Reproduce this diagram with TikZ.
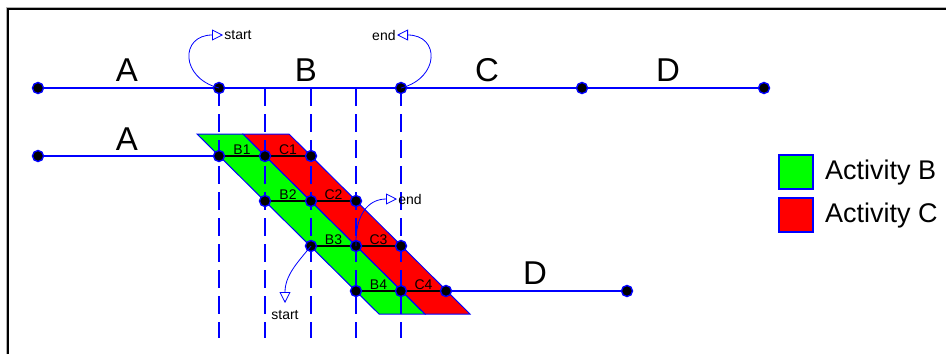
\documentclass[tikz,border=0pt]{standalone}
\usepackage{fontspec}
\setmainfont{Liberation Sans}
\usetikzlibrary{arrows.meta}
\begin{document}
\begin{tikzpicture}[x=1pt,y=-1pt,
  wire/.style={draw=blue, line width=1.6pt},
  guide/.style={draw=blue, line width=1.6pt, dash pattern=on 18pt off 8pt},
  dot/.style={circle, fill=black, draw=blue, line width=1.4pt, minimum size=11pt, inner sep=0pt},
  link/.style={draw=black, line width=1.2pt},
  band/.style={draw=blue, line width=1pt},
  loop/.style={draw=blue, line width=0.8pt, -{Triangle[open, length=11pt, width=11pt, line width=0.8pt]}},
  big/.style={font=\fontsize{33}{34}\selectfont},
  small/.style={font=\fontsize{14}{15}\selectfont, inner sep=1.2pt},
  legend/.style={font=\fontsize{27}{28}\selectfont, anchor=west, inner sep=0pt},
  swatch/.style={draw=blue, line width=1.2pt, minimum size=34pt, inner sep=0pt}]

\useasboundingbox (0,0) rectangle (946,354);
\fill[white] (0,0) rectangle (946,354);

% frame
\draw[gray!60, line width=1pt] (6,354) -- (6,7) -- (946,7);
\draw[black, line width=1.5pt] (8,354) -- (8,9) -- (946,9);

% sequential schedule
\coordinate (t1) at (38,88);
\coordinate (t2) at (219,88);
\coordinate (t3) at (401,88);
\coordinate (t4) at (582,88);
\coordinate (t5) at (764,88);

% time guides
\foreach \i/\x in {1/219,2/265,3/311,4/356,5/401}{
  \coordinate (k\i) at (\x,88);
  \coordinate (g\i) at (\x,338);
}

% overlapped schedule
\coordinate (a0) at (38,156);
\coordinate (r11) at (219,156); \coordinate (r12) at (265,156); \coordinate (r13) at (311,156);
\coordinate (r21) at (265,201); \coordinate (r22) at (311,201); \coordinate (r23) at (356,201);
\coordinate (r31) at (311,246); \coordinate (r32) at (356,246); \coordinate (r33) at (401,246);
\coordinate (r41) at (356,291); \coordinate (r42) at (401,291); \coordinate (r43) at (446,291);
\coordinate (d1) at (627,291);

% activity bands
\filldraw[band, fill=green] (197,134) -- (243,134) -- (425,314) -- (379,314) -- cycle;
\filldraw[band, fill=red] (243,134) -- (289,134) -- (470,314) -- (425,314) -- cycle;

% lines
\draw[wire] (t1) -- (t5);
\draw[wire] (a0) -- (r11);
\draw[wire] (r43) -- (d1);
\foreach \i in {1,...,5}{ \draw[guide] (k\i) -- (g\i); }

\draw[link] (r11) -- node[small, above] {B1} (r12) -- node[small, above] {C1} (r13);
\draw[link] (r21) -- node[small, above] {B2} (r22) -- node[small, above] {C2} (r23);
\draw[link] (r31) -- node[small, above] {B3} (r32) -- node[small, above] {C3} (r33);
\draw[link] (r41) -- node[small, above] {B4} (r42) -- node[small, above] {C4} (r43);

% dots
\foreach \c in {t1,t2,t3,t4,t5,a0,r11,r12,r13,r21,r22,r23,r31,r32,r33,r41,r42,r43,d1}{
  \node[dot] (n\c) at (\c) {};
}

% labels
\node[big] (lA) at (127,70) {A};
\node[big] (lB) at (306,70) {B};
\node[big] (lC) at (487,70) {C};
\node[big] (lD) at (668,70) {D};
\node[big] (lA2) at (127,139) {A};
\node[big] (lD2) at (535,273) {D};

% start / end markers
\coordinate (s1) at (223,35);
\coordinate (e1) at (397,35);
\coordinate (e2) at (397,199);
\coordinate (s2) at (285,303);
\draw[loop] (t2) .. controls (180,78) and (180,35) .. (s1);
\draw[loop] (t3) .. controls (440,78) and (440,35) .. (e1);
\draw[loop] (r32) .. controls (355,215) and (368,199) .. (e2);
\draw[loop] (r31) .. controls (298,262) and (285,275) .. (s2);
\node[small, anchor=west] (ts1) at (s1) {start};
\node[small, anchor=east] (te1) at (e1) {end};
\node[small, anchor=west] (te2) at (e2) {end};
\node[small, anchor=north] (ts2) at (285,309) {start};

% legend
\node[swatch, fill=green] (kb) at (796,172) {};
\node[swatch, fill=red] (kc) at (796,215) {};
\node[legend] (tb) at (825,173) {Activity B};
\node[legend] (tc) at (825,216) {Activity C};
\end{tikzpicture}
\end{document}
